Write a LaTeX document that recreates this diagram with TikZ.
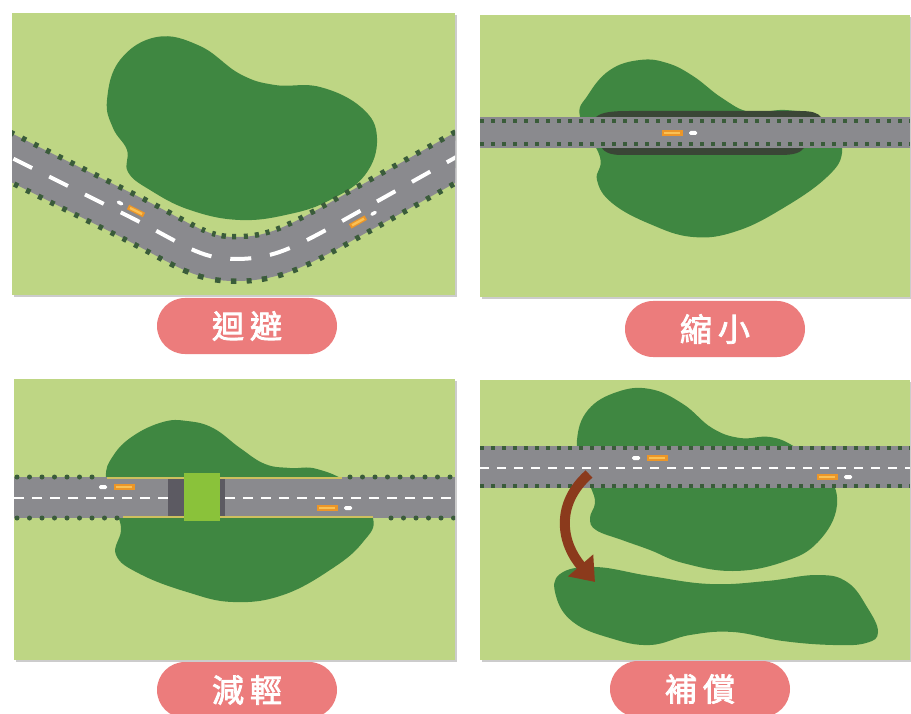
\documentclass[tikz,border=0pt]{standalone}
\usepackage{fontspec}
\newfontfamily\cjk[AutoFakeBold=2.5]{Noto Sans CJK TC}
\usetikzlibrary{arrows.meta}

\definecolor{grass}{RGB}{190,214,132}
\definecolor{forest}{RGB}{63,135,65}
\definecolor{asphalt}{RGB}{138,138,142}
\definecolor{kerbdot}{RGB}{58,92,58}
\definecolor{viaduct}{RGB}{58,70,54}
\definecolor{pillpink}{RGB}{236,124,124}
\definecolor{arrowbrown}{RGB}{139,58,28}
\definecolor{carorange}{RGB}{236,150,40}
\definecolor{carlight}{RGB}{250,192,84}
\definecolor{railyellow}{RGB}{205,192,95}
\definecolor{deckgreen}{RGB}{138,194,58}
\definecolor{deckshade}{RGB}{92,90,98}

\tikzset{
  panel/.style={fill=grass},
  panelshadow/.style={fill=black!20},
  blob/.style={fill=forest},
  pill/.style={fill=pillpink, rounded corners=28pt, minimum width=180pt,
    minimum height=56pt, inner sep=0pt, text=white,
    font=\cjk\bfseries\fontsize{32}{32}\selectfont},
  dotrow/.style={kerbdot, line width=5pt, line cap=round, dash pattern=on 0pt off 12.5pt},
  smalldots/.style={kerbdot, line width=3.5pt, dash pattern=on 3.5pt off 7.5pt},
  lanedash/.style={white, line width=2.5pt, dash pattern=on 10pt off 8pt},
  pics/carR/.style={code={
    \fill[carorange] (-10.5,-3) rectangle (10.5,3);
    \fill[carlight] (-8,-1.4) rectangle (8,1.4);
    \fill[white, rounded corners=1.5pt] (17,-2) rectangle (25,2);}},
  pics/carL/.style={code={
    \fill[carorange] (-10.5,-3) rectangle (10.5,3);
    \fill[carlight] (-8,-1.4) rectangle (8,1.4);
    \fill[white, rounded corners=1.5pt] (-25,-2) rectangle (-17,2);}},
}

\begin{document}
\begin{tikzpicture}[x=1pt,y=-1pt]
\useasboundingbox (0,0) rectangle (911,714);
\fill[white] (0,0) rectangle (911,714);

% ---------- panel frames with a soft drop shadow ----------
\foreach \xa/\ya/\xb/\yb in {12/13/455/295, 480/15/910/297, 14/379/455/660, 480/380/910/660}{
  \fill[panelshadow] (\xa+2,\ya+2) rectangle (\xb+2,\yb+2);
  \fill[panel] (\xa,\ya) rectangle (\xb,\yb);
}

% ---------- 1: detour around the forest ----------
\begin{scope}
  \clip (12,13) rectangle (455,295);
  \fill[blob] plot[smooth cycle, tension=0.7] coordinates {
    (157,37) (200,46) (240,74) (275,85) (320,87) (362,108) (377,138)
    (365,175) (330,200) (290,214) (240,220) (190,210) (150,190) (128,172)
    (127,150) (113,128) (107,100) (120,60)};
  \def\bend{(0,152) -- (130,217) .. controls (185,245) and (200,259) .. (235,259)
            .. controls (270,259) and (290,250) .. (335,225) -- (467,151)}
  \draw[asphalt, line width=44pt] \bend;
  \draw[kerbdot, line width=50pt, dash pattern=on 4.5pt off 9pt] \bend;
  \draw[asphalt, line width=39pt] \bend;
  \draw[white, line width=4pt, dash pattern=on 21pt off 19pt, dash phase=25pt] \bend;
  \pic[rotate=-26.6, scale=0.85] at (136,211) {carL};
  \pic[rotate=29, scale=0.85] at (358,222) {carR};
\end{scope}
\node[pill] (avoid) at (247,326) {迴\hspace{6pt}避};

% ---------- 2: shrinking the footprint with a viaduct ----------
\begin{scope}
  \clip (480,15) rectangle (910,297);
  \fill[blob] plot[smooth cycle, tension=0.7] coordinates {
    (640,60) (610,70) (588,95) (580,117) (600,157) (597,180) (612,203)
    (650,224) (693,237) (737,231) (785,207) (827,177) (842,153) (834,130)
    (817,116) (785,110) (750,112) (722,98) (693,76) (667,63)};
  \fill[viaduct] (596,117) .. controls (602,112) and (612,111) .. (630,111)
    -- (800,111) .. controls (812,111) and (818,113) .. (821,117) -- cycle;
  \fill[viaduct] (602,148) -- (804,148) .. controls (800,153) and (794,155) .. (780,155)
    -- (622,155) .. controls (610,155) and (604,152) .. (602,148) -- cycle;
  \fill[asphalt] (480,117) rectangle (910,148);
  \draw[smalldots] (480,121) -- (910,121);
  \draw[smalldots] (480,144) -- (910,144);
  \pic at (672,133) {carR};
\end{scope}
\node[pill] (shrink) at (715,329) {縮\hspace{6pt}小};

% ---------- 3: mitigation with a wildlife overpass ----------
\begin{scope}
  \clip (14,379) rectangle (455,660);
  \fill[blob] plot[smooth cycle, tension=0.7] coordinates {
    (163,422) (133,436) (113,456) (106,478) (116,510) (121,530) (116,555)
    (140,574) (187,592) (233,602) (283,595) (333,568) (363,542) (373,518)
    (350,485) (317,469) (290,468) (265,464) (240,448) (213,428) (187,421)};
  \fill[asphalt] (14,477) rectangle (455,518);
  \draw[dotrow] (17,477) -- (92,477);
  \draw[dotrow] (17,518) -- (118,518);
  \draw[dotrow] (350,477) -- (455,477);
  \draw[dotrow] (391,518) -- (455,518);
  \draw[railyellow, line width=2pt] (107,478) -- (342,478);
  \draw[railyellow, line width=2pt] (123,517) -- (373,517);
  \draw[lanedash] (14,498) -- (168,498);
  \draw[lanedash] (225,498) -- (455,498);
  \fill[deckshade] (168,479) rectangle (184,516);
  \fill[deckshade] (220,479) rectangle (225,516);
  \fill[deckgreen] (184,473) rectangle (220,521);
  \pic at (124,487) {carL};
  \pic at (327,508) {carR};
\end{scope}
\node[pill] (mitigate) at (247,690) {減\hspace{6pt}輕};

% ---------- 4: compensation with replacement habitat ----------
\begin{scope}
  \clip (480,380) rectangle (910,660);
  \fill[blob] plot[smooth cycle, tension=0.7] coordinates {
    (577,440) (588,410) (617,392) (650,389) (683,404) (712,428) (740,438)
    (770,437) (795,447) (825,470) (837,505) (818,542) (783,562) (733,571)
    (683,563) (650,550) (622,540) (596,530) (590,518) (595,503) (591,488)
    (582,470)};
  \fill[blob] plot[smooth cycle, tension=0.7] coordinates {
    (560,574) (595,567) (650,576) (710,584) (767,581) (817,575) (847,582)
    (867,607) (878,632) (866,643) (833,645) (783,641) (733,632) (690,635)
    (650,645) (610,638) (573,622) (556,596)};
  \fill[asphalt] (480,446) rectangle (910,488);
  \draw[smalldots] (480,448) -- (910,448);
  \draw[smalldots] (480,486) -- (910,486);
  \draw[lanedash, dash pattern=on 9pt off 8pt] (480,468) -- (910,468);
  \pic at (657,458) {carL};
  \pic at (827,477) {carR};
  \coordinate (lost) at (589,474);
  \coordinate (gained) at (595,582);
  \draw[arrowbrown, line width=10pt, -{Triangle[width=32pt,length=22pt]}]
    (lost) .. controls (554,505) and (562,544) .. (gained);
\end{scope}
\node[pill] (offset) at (700,689) {補\hspace{6pt}償};

\end{tikzpicture}
\end{document}
